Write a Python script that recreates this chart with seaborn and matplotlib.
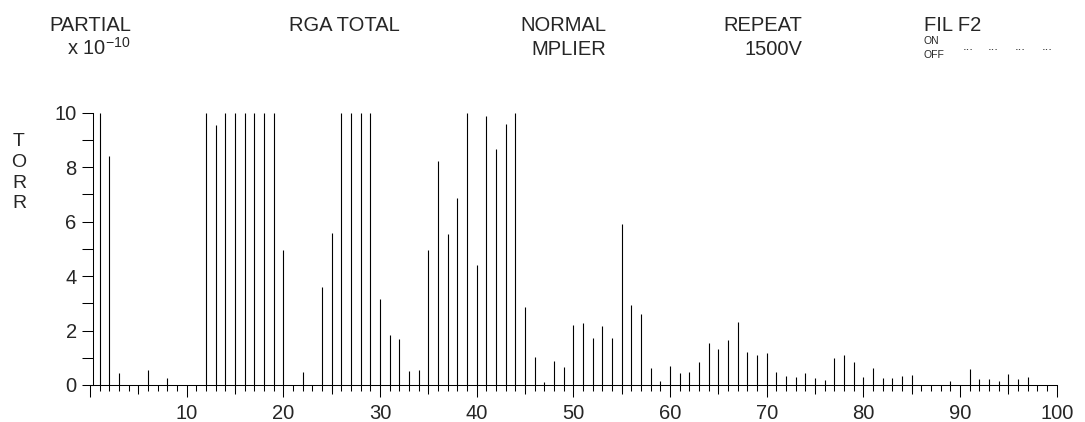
import pandas as pd
import seaborn as sns
import matplotlib.pyplot as plt
from matplotlib.lines import TICKDOWN

# Mass numbers 1..99 and partial pressure readings (x 10^-10 torr)
mass = list(range(1, 100))
torr = [
    10.0, 8.4, 0.43, 0.0, 0.0, 0.55, 0.0, 0.25, 0.0, 0.0,        # 1-10
    0.0, 10.0, 9.56, 10.0, 10.0, 10.0, 10.0, 10.0, 10.0, 4.94,   # 11-20
    0.0, 0.47, 0.0, 3.59, 5.58, 10.0, 10.0, 10.0, 10.0, 3.16,    # 21-30
    1.83, 1.68, 0.51, 0.55, 4.94, 8.21, 5.55, 6.86, 10.0, 4.42,  # 31-40
    9.89, 8.66, 9.58, 10.0, 2.87, 1.03, 0.12, 0.87, 0.66, 2.21,  # 41-50
    2.28, 1.72, 2.17, 1.72, 5.92, 2.92, 2.62, 0.61, 0.15, 0.69,  # 51-60
    0.44, 0.48, 0.85, 1.53, 1.34, 1.64, 2.32, 1.23, 1.12, 1.19,  # 61-70
    0.47, 0.32, 0.29, 0.43, 0.25, 0.18, 0.98, 1.12, 0.85, 0.29,  # 71-80
    0.61, 0.25, 0.25, 0.33, 0.37, 0.0, 0.0, 0.0, 0.15, 0.0,      # 81-90
    0.58, 0.21, 0.21, 0.15, 0.39, 0.21, 0.28, 0.0, 0.0,          # 91-99
]
x_labels = [''] + [str(v) for v in range(10, 101, 10)]

sns.set_style('ticks')
plt.rcParams['font.family'] = ['Liberation Sans', 'DejaVu Sans']
plt.rcParams['mathtext.fontset'] = 'custom'
plt.rcParams['mathtext.rm'] = 'Liberation Sans'
plt.rcParams['mathtext.it'] = 'Liberation Sans'

W, H = 1085, 422
fig = plt.figure(figsize=(W / 100, H / 100), dpi=100)
ax = fig.add_axes([90 / W, 37 / H, 966.7 / W, 272.3 / H])

df = pd.DataFrame({'mass': mass, 'torr': torr})
sns.barplot(data=df, x='mass', y='torr', native_scale=True, width=0.1,
            color='black', edgecolor='black', linewidth=0.8, errorbar=None, ax=ax)

# squash each bar to a single crisp stroke
for p in ax.patches:
    w = p.get_width()
    p.set_x(p.get_x() + w / 2)
    p.set_width(0)

ax.set_xlim(0, 100)
ax.set_ylim(0, 10)
ax.set_xlabel('')
ax.set_ylabel('')
sns.despine(ax=ax)
ax.spines['left'].set_position(('data', 0.28))
for s in ['left', 'bottom']:
    ax.spines[s].set_linewidth(0.75)
    ax.spines[s].set_color('black')

# x ticks: long at 10s, medium at 5s, short at every mass
ax.set_xticks(range(0, 101, 10))
ax.set_xticklabels(x_labels)
ax.set_xticks(range(0, 101), minor=True)
ax.tick_params(axis='x', which='major', direction='out', length=8.6, width=0.75,
               labelsize=14.5, pad=5, color='black')
ax.tick_params(axis='x', which='minor', direction='out', length=4.3, width=0.75, color='black')
ax.plot(list(range(5, 100, 10)), [0] * 10, ls='none', marker=TICKDOWN, ms=6.5,
        mew=0.75, color='black', clip_on=False)

# y ticks
ax.set_yticks(range(0, 11, 2))
ax.set_yticks(range(1, 10, 2), minor=True)
ax.tick_params(axis='y', which='both', direction='out', length=7.9, width=0.75,
               labelsize=14.5, pad=3.6, color='black')


def fpos(x, y):
    return x / W, 1 - y / H


fs = 14.5
fig.text(*fpos(131, 31), 'PARTIAL', ha='right', va='baseline', fontsize=fs)
fig.text(*fpos(131, 55), r'x 10$^{-10}$', ha='right', va='baseline', fontsize=fs)
fig.text(*fpos(289, 31), 'RGA TOTAL', ha='left', va='baseline', fontsize=fs)
fig.text(*fpos(606, 31), 'NORMAL', ha='right', va='baseline', fontsize=fs)
fig.text(*fpos(606, 55), 'MPLIER', ha='right', va='baseline', fontsize=fs)
fig.text(*fpos(802, 31), 'REPEAT', ha='right', va='baseline', fontsize=fs)
fig.text(*fpos(802, 55), '1500V', ha='right', va='baseline', fontsize=fs)
fig.text(*fpos(924, 31), 'FIL F2', ha='left', va='baseline', fontsize=fs)
fig.text(*fpos(924, 44), 'ON', ha='left', va='baseline', fontsize=7.5)
fig.text(*fpos(924, 58), 'OFF', ha='left', va='baseline', fontsize=7.5)
for dx in [963, 988, 1015, 1042]:
    fig.text(*fpos(dx, 50), '...', ha='left', va='baseline', fontsize=9.5, color='#222222')

# vertical axis title
for ch, cy in zip('TORR', [141, 162, 183, 204]):
    fig.text(*fpos(19, cy), ch, ha='center', va='center', fontsize=14)

fig.savefig('out.png', dpi=100)
